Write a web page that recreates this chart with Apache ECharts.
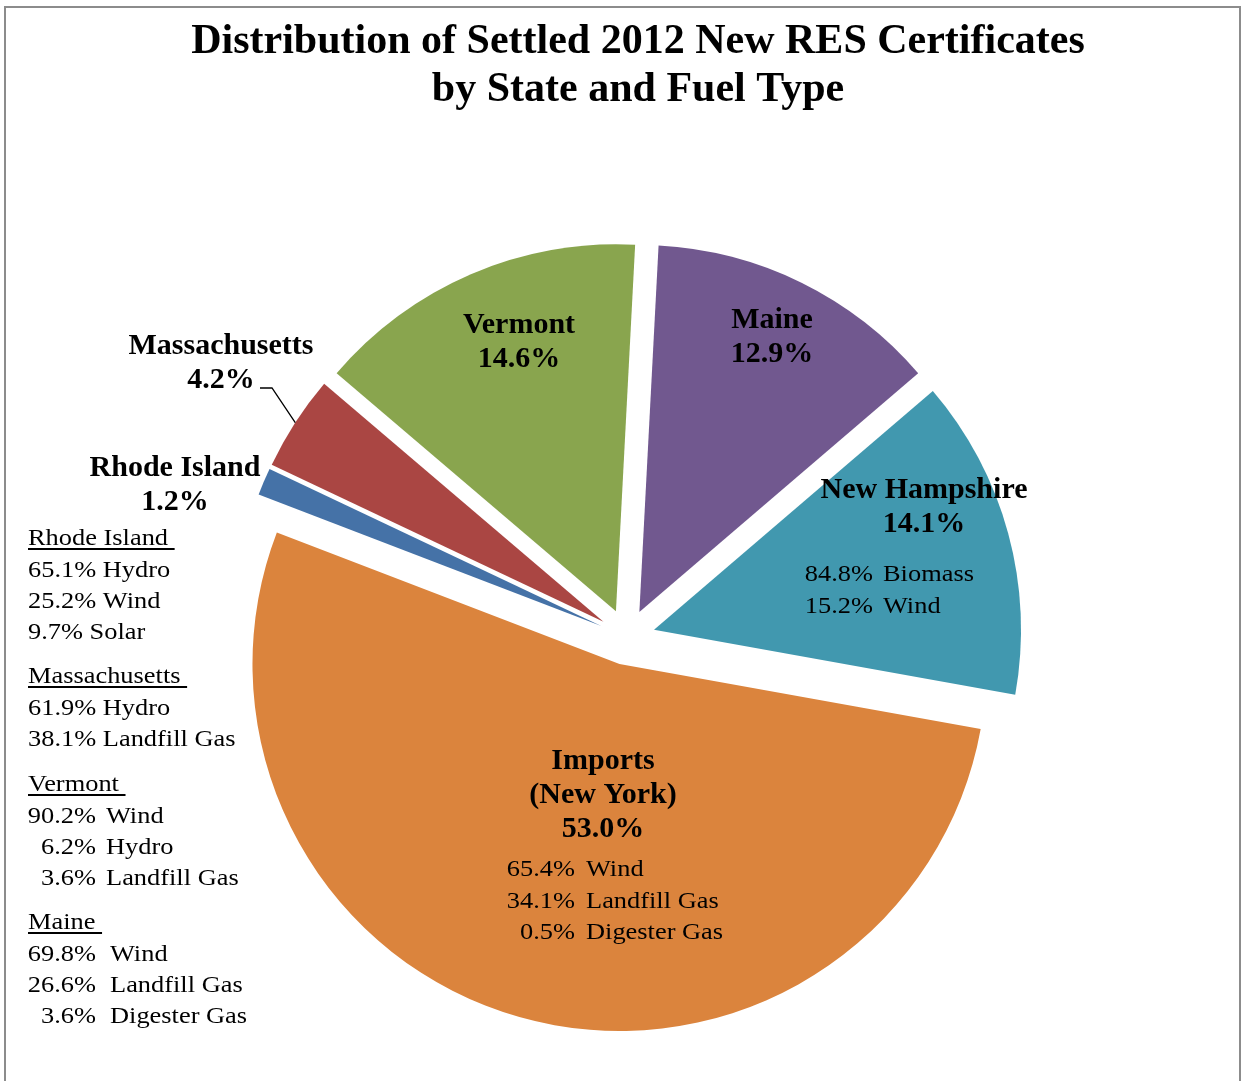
<!DOCTYPE html>
<html>
<head>
<meta charset="utf-8">
<script src="https://cdn.jsdelivr.net/npm/echarts@6/dist/echarts.min.js"></script>
<style>
  html, body { margin: 0; padding: 0; background: #ffffff; }
  #chart { width: 1243px; height: 1081px; }
</style>
</head>
<body>
<div id="chart"></div>
<script>
// ---- data ----
const titleLines = ['Distribution of Settled 2012 New RES Certificates', 'by State and Fuel Type'];
const states = ['Maine', 'New Hampshire', 'Imports\n(New York)', 'Rhode Island', 'Massachusetts', 'Vermont'];
const shares = [12.9, 14.1, 53.0, 1.2, 4.2, 14.6];

// fuel mix per state: [percent, fuel]
const maineMix = [[69.8, 'Wind'], [26.6, 'Landfill Gas'], [3.6, 'Digester Gas']];
const newHampshireMix = [[84.8, 'Biomass'], [15.2, 'Wind']];
const importsMix = [[65.4, 'Wind'], [34.1, 'Landfill Gas'], [0.5, 'Digester Gas']];
const rhodeIslandMix = [[65.1, 'Hydro'], [25.2, 'Wind'], [9.7, 'Solar']];
const massachusettsMix = [[61.9, 'Hydro'], [38.1, 'Landfill Gas']];
const vermontMix = [[90.2, 'Wind'], [6.2, 'Hydro'], [3.6, 'Landfill Gas']];

// ---- style / layout ----
const colors = ['#71588F', '#4198AF', '#DB843D', '#4572A7', '#AA4643', '#89A54E'];
const SERIF = '"Liberation Serif", "Times New Roman", serif';
const PIE_CX = 627, PIE_CY = 637, PIE_R = 367, EXPLODE = 28, START_DEG = 87;
const NOTE_SIZE = 24, NOTE_STRETCH = 1.1;

// centre of each slice's name/percent block
const labelPos = [[772, 337], [924, 507], [603, 795], [175, 485], [221, 363], [519, 342]];

// side notes and in-slice notes
const notes = [
  { title: 'Rhode Island', rows: rhodeIslandMix, x: 28, y: 539, mode: 'inline' },
  { title: 'Massachusetts', rows: massachusettsMix, x: 28, y: 677, mode: 'inline' },
  { title: 'Vermont', rows: vermontMix, x: 28, y: 785, mode: 'columns', pctRight: 96, fuelX: 106 },
  { title: 'Maine', rows: maineMix, x: 28, y: 923, mode: 'columns', pctRight: 96, fuelX: 110 },
  { rows: newHampshireMix, y: 575, mode: 'columns', pctRight: 873, fuelX: 883, step: 32 },
  { rows: importsMix, y: 870, mode: 'columns', pctRight: 575, fuelX: 586, step: 31.5 }
];

const measureCtx = document.createElement('canvas').getContext('2d');
function textWidth(t) {
  measureCtx.font = NOTE_SIZE + 'px ' + SERIF;
  return measureCtx.measureText(t).width * NOTE_STRETCH;
}

function noteText(x, y, text, align) {
  return {
    type: 'text', x: x, y: y, scaleX: NOTE_STRETCH, z: 20, silent: true,
    style: {
      text: text, fontFamily: SERIF, fontSize: NOTE_SIZE, fill: '#000',
      align: align || 'left', verticalAlign: 'middle'
    }
  };
}

const graphics = [];
// chart frame
graphics.push({
  type: 'rect', z: 1, silent: true,
  shape: { x: 5, y: 7, width: 1235, height: 1100 },
  style: { fill: 'none', stroke: '#8c8c8c', lineWidth: 2 }
});
// title
graphics.push({
  type: 'text', x: 638, y: 18, z: 20, silent: true,
  style: {
    text: titleLines.join('\n'), fontFamily: SERIF, fontWeight: 'bold', fontSize: 42,
    lineHeight: 48, fill: '#000', align: 'center', verticalAlign: 'top'
  }
});

// slice name + share labels
states.forEach(function (name, i) {
  graphics.push({
    type: 'text', x: labelPos[i][0], y: labelPos[i][1], z: 20, silent: true,
    style: {
      text: name + '\n' + shares[i].toFixed(1) + '%',
      fontFamily: SERIF, fontWeight: 'bold', fontSize: 30, lineHeight: 34,
      fill: '#000', align: 'center', verticalAlign: 'middle'
    }
  });
});

notes.forEach(function (n) {
  const step = n.step || 31;
  let y = n.y;
  if (n.title) {
    graphics.push(noteText(n.x, y, n.title));
    const w = textWidth(n.title + ' ');
    graphics.push({
      type: 'line', z: 20, silent: true,
      shape: { x1: n.x, y1: y + 10, x2: n.x + w, y2: y + 10 },
      style: { stroke: '#000', lineWidth: 1.8 }
    });
    y += 32;
  }
  n.rows.forEach(function (r) {
    const pct = r[0].toFixed(1) + '%';
    if (n.mode === 'inline') {
      graphics.push(noteText(n.x, y, pct + ' ' + r[1]));
    } else {
      graphics.push(noteText(n.pctRight, y, pct, 'right'));
      graphics.push(noteText(n.fuelX, y, r[1]));
    }
    y += step;
  });
});

// leader line from the Massachusetts label to its slice
(function () {
  const idx = 4;
  const total = shares.reduce(function (a, b) { return a + b; }, 0);
  let before = 0;
  for (let k = 0; k < idx; k++) before += shares[k];
  const mid = (START_DEG - (before + shares[idx] / 2) / total * 360) * Math.PI / 180;
  const edge = [PIE_CX + Math.cos(mid) * (PIE_R + EXPLODE), PIE_CY - Math.sin(mid) * (PIE_R + EXPLODE)];
  const lp = labelPos[idx];
  graphics.push({
    type: 'polyline', z: 20, silent: true,
    shape: { points: [[lp[0] + 39, lp[1] + 25], [lp[0] + 51, lp[1] + 25], edge] },
    style: { stroke: '#000', lineWidth: 1.3, fill: 'none' }
  });
})();

const pieData = states.map(function (name, i) {
  return { name: name, value: shares[i], selected: true, itemStyle: { color: colors[i] } };
});

const chart = echarts.init(document.getElementById('chart'), null, { renderer: 'canvas' });
chart.setOption({
  backgroundColor: '#ffffff',
  animation: false,
  series: [{
    type: 'pie',
    silent: true,
    center: [PIE_CX, PIE_CY],
    radius: PIE_R,
    startAngle: START_DEG,
    clockwise: true,
    selectedMode: 'multiple',
    selectedOffset: EXPLODE,
    avoidLabelOverlap: false,
    itemStyle: { borderWidth: 0 },
    emphasis: { disabled: true },
    label: { show: false },
    labelLine: { show: false },
    data: pieData
  }],
  graphic: graphics
});
</script>
</body>
</html>
